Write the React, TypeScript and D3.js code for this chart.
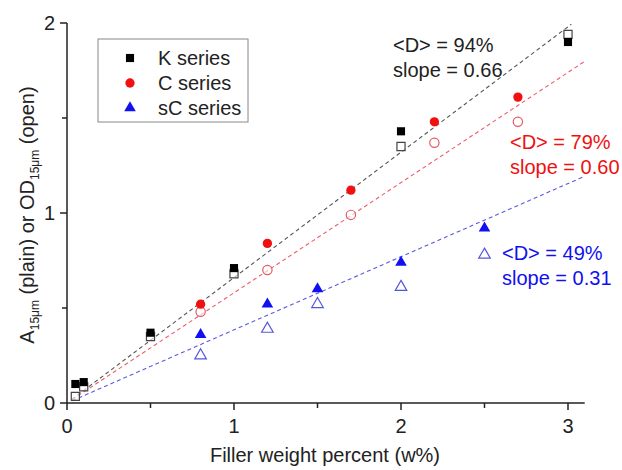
import React from 'react';
import * as d3 from 'd3';

// weight percent values per series
const kX = [0.05, 0.1, 0.5, 1, 2, 3];
const kPlain = [0.1, 0.11, 0.37, 0.71, 1.43, 1.9];
const kOpen = [0.035, 0.085, 0.35, 0.68, 1.35, 1.94];

const cX = [0.8, 1.2, 1.7, 2.2, 2.7];
const cPlain = [0.52, 0.84, 1.12, 1.48, 1.61];
const cOpen = [0.48, 0.7, 0.99, 1.37, 1.48];

const scX = [0.8, 1.2, 1.5, 2, 2.5];
const scPlain = [0.36, 0.52, 0.6, 0.74, 0.92];
const scOpen = [0.25, 0.39, 0.52, 0.61, 0.78];

// dashed fit lines: slope through origin, x start, x end
const fitSlopes = [0.66, 0.58, 0.385];
const fitStart = [0.03, 0.03, 0.03];
const fitEnd = [3.02, 3.1, 3.1];

const xTicks = [0, 1, 2, 3];
const yTicks = [0, 1, 2];
const xMinor = [0.5, 1.5, 2.5];
const yMinor = [0.5, 1.5];

const legendNames = ['K series', 'C series', 'sC series'];
const dLabels = ['<D> = 94%', '<D> = 79%', '<D> = 49%'];
const slopeLabels = ['slope = 0.66', 'slope = 0.60', 'slope = 0.31'];

const colors = ['#000000', '#f01010', '#1010f0'];
const openColors = ['#444444', '#e45a62', '#5656dc'];
const lineColors = ['#555555', '#e8606a', '#5a5ae0'];
const shapes = [d3.symbolSquare, d3.symbolCircle, d3.symbolTriangle];
const sizes = [66, 68, 58];

const App = () => {
  const w = 622;
  const h = 470;
  const x = d3.scaleLinear().domain([0, 3]).range([67, 568]);
  const y = d3.scaleLinear().domain([0, 2]).range([403, 23]);
  const font = 'Liberation Sans, Arial, Helvetica, sans-serif';

  const series = [
    { xs: kX, plain: kPlain, open: kOpen },
    { xs: cX, plain: cPlain, open: cOpen },
    { xs: scX, plain: scPlain, open: scOpen },
  ];

  const line = d3.line<number[]>().x((d) => x(d[0])).y((d) => y(d[1]));
  const sym = (i: number) => d3.symbol().type(shapes[i]).size(sizes[i])() as string;

  // annotation anchors (left x, baseline of first line)
  const annot = [
    { lx: 393, ly: 52 },
    { lx: 510, ly: 149 },
    { lx: 502, ly: 260 },
  ];

  return (
    <svg width={w} height={h} style={{ position: 'absolute', left: 0, top: 0 }} fontFamily={font}>
      <rect width={w} height={h} fill="white" />

      {/* fit lines */}
      {fitSlopes.map((s, i) => (
        <path
          key={'fit' + i}
          d={line([[fitStart[i], fitStart[i] * s], [fitEnd[i], fitEnd[i] * s]]) as string}
          stroke={lineColors[i]}
          strokeWidth={1.1}
          strokeDasharray="4,3"
          fill="none"
        />
      ))}

      {/* open markers */}
      {series.map((s, i) =>
        s.xs.map((xv, j) => (
          <path
            key={`o${i}-${j}`}
            d={sym(i)}
            transform={`translate(${x(xv)},${y(s.open[j])})`}
            fill="white"
            fillOpacity={0.6}
            stroke={openColors[i]}
            strokeWidth={1.2}
          />
        ))
      )}

      {/* filled markers */}
      {series.map((s, i) =>
        s.xs.map((xv, j) => (
          <path
            key={`p${i}-${j}`}
            d={sym(i)}
            transform={`translate(${x(xv)},${y(s.plain[j])})`}
            fill={colors[i]}
          />
        ))
      )}

      {/* axes */}
      <g stroke="#222" strokeWidth={1.5}>
        <line x1={x(0)} x2={x(3.1)} y1={y(0)} y2={y(0)} />
        <line x1={x(0)} x2={x(0)} y1={y(0)} y2={y(2)} />
        {xTicks.map((t) => (
          <line key={'xt' + t} x1={x(t)} x2={x(t)} y1={y(0)} y2={y(0) + 7} />
        ))}
        {xMinor.map((t) => (
          <line key={'xm' + t} x1={x(t)} x2={x(t)} y1={y(0)} y2={y(0) + 5} />
        ))}
        {yTicks.map((t) => (
          <line key={'yt' + t} x1={x(0) - 7} x2={x(0)} y1={y(t)} y2={y(t)} />
        ))}
        {yMinor.map((t) => (
          <line key={'ym' + t} x1={x(0) - 5} x2={x(0)} y1={y(t)} y2={y(t)} />
        ))}
      </g>
      <g fontSize={20} fill="#222">
        {xTicks.map((t) => (
          <text key={'xl' + t} x={x(t)} y={y(0) + 30} textAnchor="middle">{t}</text>
        ))}
        {yTicks.map((t) => (
          <text key={'yl' + t} x={x(0) - 12} y={y(t) + 7} textAnchor="end">{t}</text>
        ))}
      </g>

      {/* axis titles */}
      <text x={325} y={462} textAnchor="middle" fontSize={20} fill="#222">
        Filler weight percent (w%)
      </text>
      <text transform="translate(34,215) rotate(-90)" textAnchor="middle" fontSize={20} fill="#222">
        A<tspan fontSize={12} dy={5}>15μm</tspan>
        <tspan dy={-5}> (plain) or OD</tspan>
        <tspan fontSize={12} dy={5}>15μm</tspan>
        <tspan dy={-5}> (open)</tspan>
      </text>

      {/* legend */}
      <rect x={98} y={39} width={150} height={83} fill="white" stroke="#888" strokeWidth={1} />
      {legendNames.map((n, i) => (
        <g key={'lg' + i} transform={`translate(0,${58 + i * 25})`}>
          <path d={sym(i)} transform="translate(130,0)" fill={colors[i]} />
          <text x={158} y={7} fontSize={20} fill="#222">{n}</text>
        </g>
      ))}

      {/* annotations */}
      {annot.map((a, i) => (
        <g key={'an' + i} fontSize={20} fill={i === 0 ? '#222' : colors[i]}>
          <text x={a.lx} y={a.ly}>{dLabels[i]}</text>
          <text x={a.lx} y={a.ly + 25}>{slopeLabels[i]}</text>
        </g>
      ))}
    </svg>
  );
};

export default App;
